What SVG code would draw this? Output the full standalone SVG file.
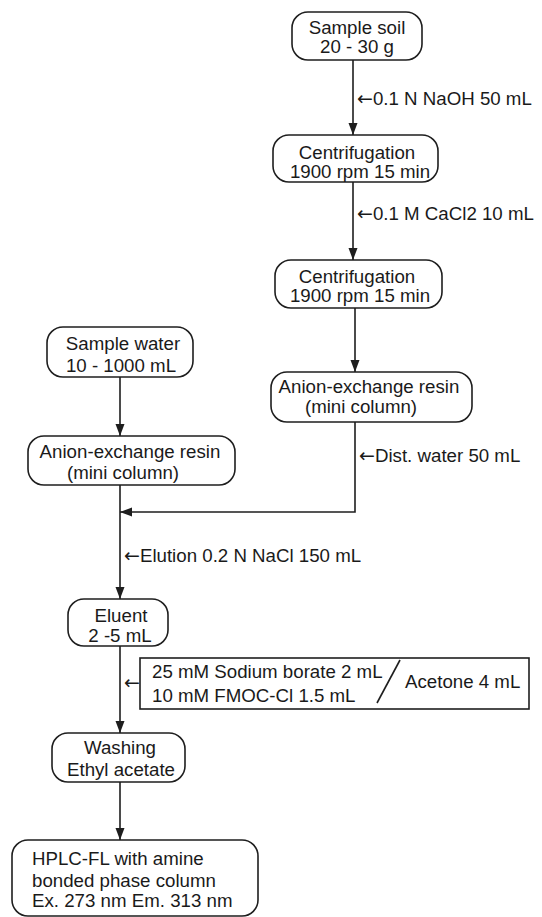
<svg xmlns="http://www.w3.org/2000/svg" width="542" height="917" viewBox="0 0 542 917">
<style>
.box{fill:#fff;stroke:#1e1e1e;stroke-width:1.6}
.t{font-family:"Liberation Sans",Arial,sans-serif;font-size:18.7px;fill:#1a1a1a}
.m{text-anchor:middle}
.ar{font-family:"DejaVu Sans",sans-serif;font-size:19px}
.ln{fill:none;stroke:#1e1e1e;stroke-width:1.6}
</style>
<defs>
<marker id="ah" markerUnits="userSpaceOnUse" markerWidth="12" markerHeight="12" viewBox="0 0 12 12" refX="12" refY="6" orient="auto">
<path d="M0,1.5 L12,6 L0,10.5 Z" fill="#1e1e1e"/>
</marker>
</defs>
<rect width="542" height="917" fill="#fff"/>
<g id="connectors">
<line class="ln" x1="353" y1="60" x2="353" y2="135" marker-end="url(#ah)"/>
<line class="ln" x1="353" y1="182" x2="353" y2="260" marker-end="url(#ah)"/>
<line class="ln" x1="355" y1="308" x2="355" y2="372" marker-end="url(#ah)"/>
<line class="ln" x1="120" y1="377" x2="120" y2="436" marker-end="url(#ah)"/>
<polyline class="ln" points="355,422 355,512 120,512" marker-end="url(#ah)"/>
<line class="ln" x1="120" y1="485" x2="120" y2="599" marker-end="url(#ah)"/>
<line class="ln" x1="120" y1="646" x2="120" y2="733" marker-end="url(#ah)"/>
<line class="ln" x1="120" y1="782" x2="120" y2="840" marker-end="url(#ah)"/>
<text class="t" x="357" y="105"><tspan class="ar">←</tspan>0.1 N NaOH 50 mL</text>
<text class="t" x="357" y="220"><tspan class="ar">←</tspan>0.1 M CaCl2 10 mL</text>
<text class="t" x="359" y="462"><tspan class="ar">←</tspan>Dist. water 50 mL</text>
<text class="t" x="124" y="562"><tspan class="ar">←</tspan>Elution 0.2 N NaCl 150 mL</text>
</g>
<g id="sample-soil">
<rect class="box" x="292" y="12" width="130" height="48" rx="16"/>
<text class="t m" x="357" y="33.5">Sample soil</text>
<text class="t m" x="357" y="53">20 - 30 g</text>
</g>
<g id="centrifugation-1">
<rect class="box" x="273" y="135" width="165" height="47" rx="16"/>
<text class="t m" x="357" y="159">Centrifugation</text>
<text class="t m" x="360" y="178">1900 rpm 15 min</text>
</g>
<g id="centrifugation-2">
<rect class="box" x="275" y="260" width="167" height="48" rx="16"/>
<text class="t m" x="357" y="283">Centrifugation</text>
<text class="t m" x="360" y="302">1900 rpm 15 min</text>
</g>
<g id="anion-resin-soil">
<rect class="box" x="271" y="372" width="201" height="50" rx="16"/>
<text class="t m" x="369" y="393">Anion-exchange resin</text>
<text class="t m" x="361" y="413">(mini column)</text>
</g>
<g id="sample-water">
<rect class="box" x="47" y="327" width="146" height="50" rx="16"/>
<text class="t m" x="123" y="350">Sample water</text>
<text class="t m" x="121" y="372">10 - 1000 mL</text>
</g>
<g id="anion-resin-water">
<rect class="box" x="28" y="436" width="207" height="49" rx="16"/>
<text class="t m" x="130" y="458">Anion-exchange resin</text>
<text class="t m" x="123" y="479">(mini column)</text>
</g>
<g id="eluent">
<rect class="box" x="68" y="599" width="100" height="47" rx="16"/>
<text class="t m" x="121" y="622">Eluent</text>
<text class="t m" x="120" y="642">2 -5 mL</text>
</g>
<g id="reagents">
<rect class="box" x="140" y="658" width="389" height="51"/>
<text class="t ar" x="124" y="689">←</text>
<text class="t" x="152" y="678">25 mM Sodium borate 2 mL</text>
<text class="t" x="152" y="702">10 mM FMOC-Cl 1.5 mL</text>
<line class="ln" x1="400" y1="660" x2="377" y2="703"/>
<text class="t" x="405" y="688">Acetone 4 mL</text>
</g>
<g id="washing">
<rect class="box" x="52" y="733" width="133" height="49" rx="16"/>
<text class="t m" x="120" y="754">Washing</text>
<text class="t m" x="121" y="776">Ethyl acetate</text>
</g>
<g id="hplc">
<rect class="box" x="12" y="840" width="246" height="76" rx="16"/>
<text class="t" x="32" y="865">HPLC-FL with amine</text>
<text class="t" x="32" y="887">bonded phase column</text>
<text class="t" x="32" y="907">Ex. 273 nm Em. 313 nm</text>
</g>
</svg>
